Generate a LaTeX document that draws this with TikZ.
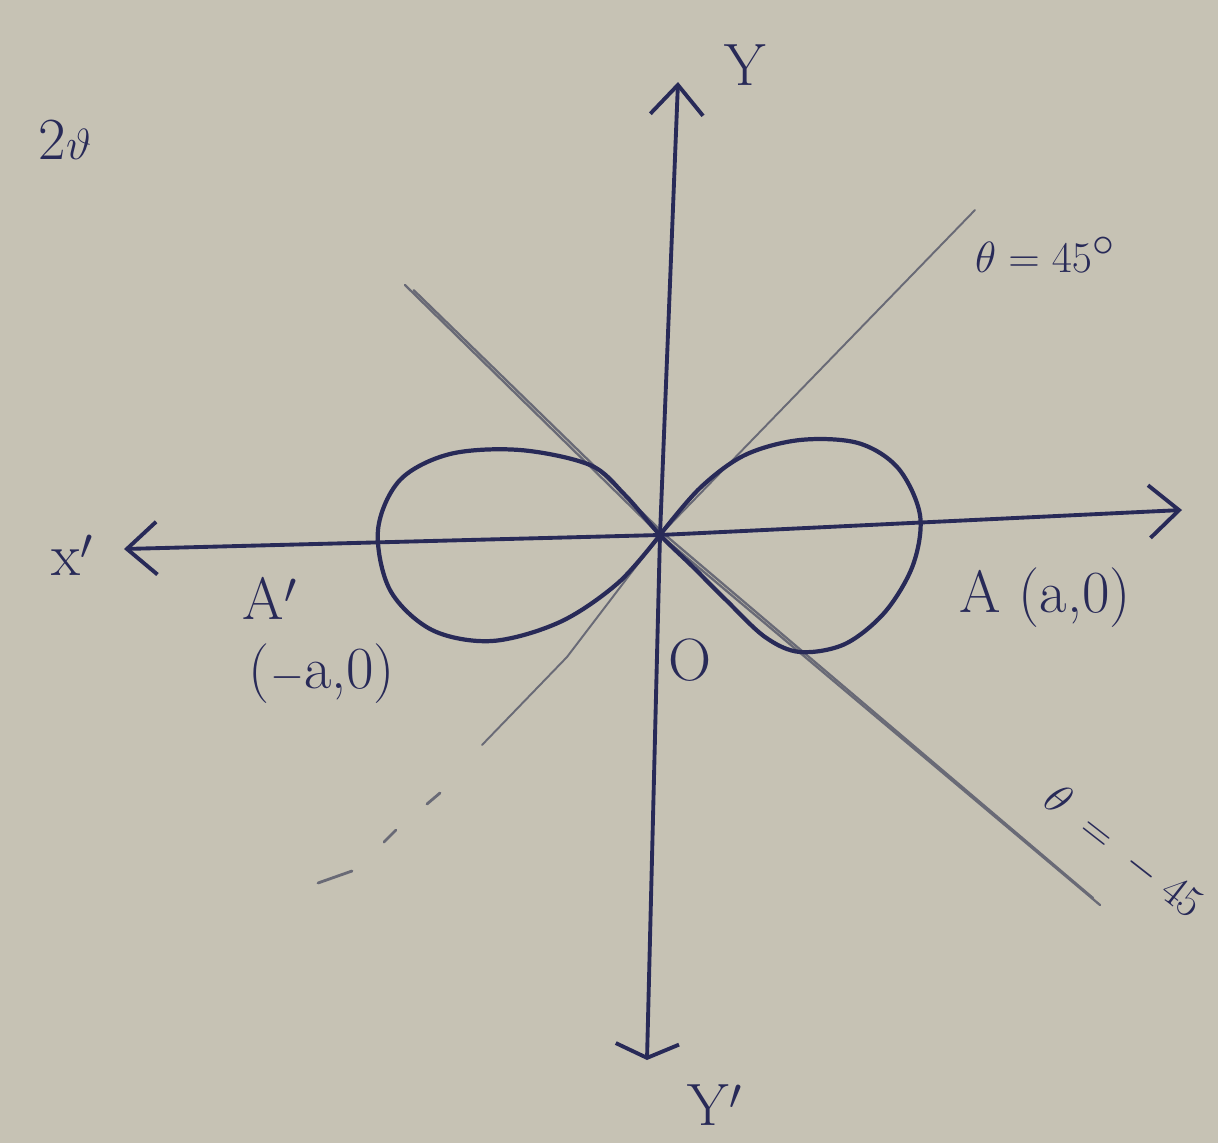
\documentclass[tikz,border=0pt]{standalone}
\usepackage{fontspec}
\usetikzlibrary{arrows.meta}
\definecolor{paper}{RGB}{198,194,180}
\definecolor{ink}{RGB}{40,42,88}
\definecolor{pencil}{RGB}{105,106,118}
\tikzset{
  axis/.style={draw=ink, line width=2.2pt, line cap=round},
  curve/.style={draw=ink, line width=2.4pt},
  guide/.style={draw=pencil, line width=1.1pt, line cap=round},
  lbl/.style={text=ink, font=\fontsize{34}{40}\selectfont},
  barb/.style={-{Straight Barb[length=17pt,width=30pt,line width=2.2pt]}}
}
\begin{document}
\begin{tikzpicture}[x=0.02cm,y=-0.02cm]
\fill[paper] (0,0) rectangle (1218,1143);
\useasboundingbox (0,0) rectangle (1218,1143);
% points
\coordinate (O) at (660,535);
\coordinate (Xp) at (124,549);
\coordinate (X) at (1182,510);
\coordinate (Ytop) at (678,82);
\coordinate (Ybot) at (647,1060);
\coordinate (L45a) at (975,210);
\coordinate (L45m) at (567,657);
\coordinate (L45b) at (482,745);
\coordinate (D1a) at (440,793); \coordinate (D1b) at (427,804);
\coordinate (D2a) at (396,830); \coordinate (D2b) at (384,842);
\coordinate (D3a) at (352,871); \coordinate (D3b) at (318,883);
\coordinate (Lm45a) at (405,285);
\coordinate (Lm45b) at (1100,905);
% guide lines
\draw[guide] (L45a) -- (O) -- (L45m) -- (L45b);
\draw[guide, line width=1.6pt] (D1a) -- (D1b);
\draw[guide, line width=1.6pt] (D2a) -- (D2b);
\draw[guide, line width=1.6pt] (D3a) -- (D3b);
\draw[guide, line width=1.3pt] (Lm45a) -- (O) -- (Lm45b);
\draw[guide, line width=1.3pt] ([xshift=5,yshift=-3]Lm45a) -- ([xshift=3]O) -- ([xshift=-4,yshift=4]Lm45b);
% axes
\draw[axis, barb] (O) -- (X);
\draw[axis, barb] (O) -- (Xp);
\draw[axis, barb] (O) -- (Ytop);
\draw[axis, -{Straight Barb[length=8pt,width=36pt,line width=2.2pt]}] (O) -- (Ybot);
% lemniscate
\draw[curve] plot[smooth, tension=0.55] coordinates {
 (660,535) (700,488) (745,455) (800,440) (858,443) (898,468) (920,515)
 (913,565) (885,612) (845,644) (800,652) (765,637) (726,600) (692,566) (660,535)
 (625,495) (590,465) (520,450) (450,454) (400,480) (378,530)
 (390,590) (432,630) (492,641) (560,622) (618,583) (660,535)};
% labels
\node[lbl] (t2) at (65,140) {2$\vartheta$};
\node[lbl] (ty) at (745,65) {Y};
\node[lbl] (tyb) at (715,1105) {Y$'$};
\node[lbl] (tx) at (72,555) {x$'$};
\node[lbl] (tO) at (690,660) {O};
\node[lbl] (tA) at (1045,598) {A (a,0)};
\node[lbl] (tAp) at (270,598) {A$'$};
\node[lbl] (tAc) at (322,674) {($-$a,0)};
\node[lbl] (t45) at (1045,255) {$\theta=45^\circ$};
\node[lbl, rotate=-38, inner sep=1pt] (tm45) at (1124,852) {$\theta\;=\;-\;45$};
\end{tikzpicture}
\end{document}
